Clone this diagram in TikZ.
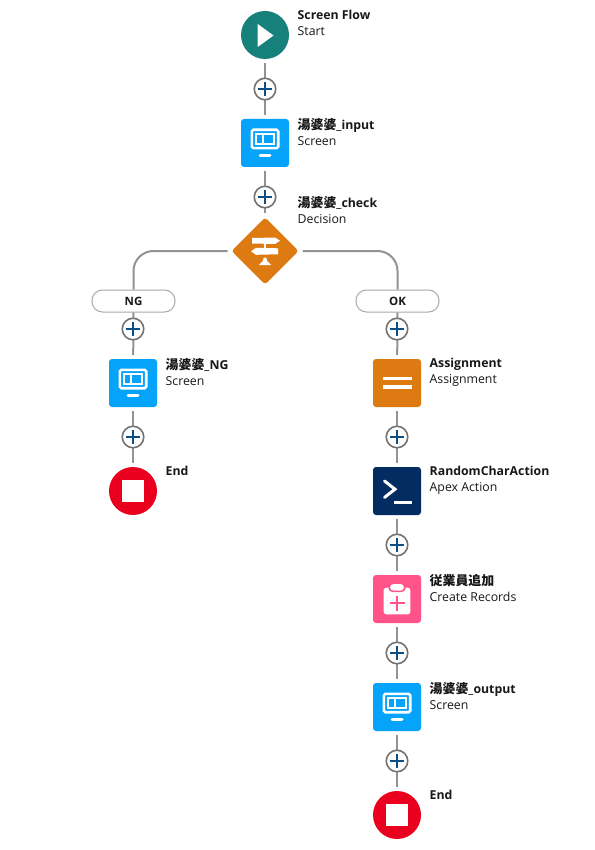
\documentclass[tikz,border=0pt]{standalone}
\usepackage{fontspec}
\setmainfont{Open Sans}
\newfontfamily\cjkfont[Scale=1.05]{Noto Sans CJK JP}
\usetikzlibrary{shapes.geometric}
\definecolor{linegray}{HTML}{939393}
\definecolor{ringgray}{HTML}{747474}
\definecolor{plusblue}{HTML}{0B4F85}
\definecolor{txt}{HTML}{181818}
\definecolor{startteal}{HTML}{16807A}
\definecolor{screenblue}{HTML}{06A3FB}
\definecolor{orangeb}{HTML}{DD7A12}
\definecolor{apexnavy}{HTML}{032D60}
\definecolor{createpink}{HTML}{FF538A}
\definecolor{endred}{HTML}{EA001E}
\newcommand{\twolines}[2]{{\bfseries #1}\\#2}
\tikzset{
  x=1pt,y=-1pt,
  squarebox/.style={rounded corners=3pt,minimum size=48pt,inner sep=0pt,outer sep=0pt},
  circlebox/.style={circle,minimum size=48pt,inner sep=0pt,outer sep=0pt},
  addring/.style={circle,draw=ringgray,line width=1.6pt,fill=white,minimum size=21.5pt,inner sep=0pt,outer sep=0pt,
    path picture={\draw[plusblue,line width=1.6pt] ([xshift=-7pt]path picture bounding box.center)--([xshift=7pt]path picture bounding box.center)
      ([yshift=-7pt]path picture bounding box.center)--([yshift=7pt]path picture bounding box.center);}},
  flowline/.style={draw=linegray,line width=2pt,shorten >=4pt,shorten <=4pt},
  branchline/.style={draw=linegray,line width=2pt,rounded corners=20pt},
  outcome/.style={draw=linegray!80,line width=1pt,fill=white,rounded corners=10.5pt,minimum width=83pt,minimum height=22pt,inner sep=0pt,font=\fontsize{11.5}{14}\selectfont\bfseries,text=txt},
  lab/.style={anchor=north west,align=left,inner sep=0pt,text=txt,font=\fontsize{12.3}{16}\selectfont},
  pics/screenicon/.style={code={
    \draw[white,line width=2.6pt,rounded corners=1.5pt] (-13.2,-13.2) rectangle (13.2,5.2);
    \draw[white,line width=1.9pt] (-8.8,-9.2) rectangle (8.8,1.2);
    \draw[white,line width=1.9pt] (-2,-9.2) -- (-2,1.2);
    \draw[white,line width=3pt,line cap=round] (-5,12.5) -- (5,12.5);
  }},
  pics/equalsicon/.style={code={
    \fill[white] (-14.5,-6.5) rectangle (14.5,-3);
    \fill[white] (-14.5,2.2) rectangle (14.5,5.7);
  }},
  pics/apexicon/.style={code={
    \draw[white,line width=3pt,line cap=round,line join=miter] (-12.5,-10) -- (-2,-1.8) -- (-12.5,6.4);
    \draw[white,line width=3.2pt] (-3,11.6) -- (15,11.6);
  }},
  pics/createicon/.style={code={
    \fill[white,rounded corners=2.5pt] (-13.3,-11.3) rectangle (13.3,15.3);
    \fill[createpink,rounded corners=4pt] (-8.6,-16.5) rectangle (8.6,-7);
    \fill[white,rounded corners=3.5pt] (-7,-15) rectangle (7,-8.4);
    \draw[createpink,line width=1.5pt] (-7.5,4) -- (7.5,4) (0,-3.5) -- (0,11.5);
  }},
  pics/signicon/.style={code={
    \fill[white] (-13,-13) -- (10,-13.5) -- (15,-10.3) -- (10,-7) -- (-13,-7.5) -- cycle;
    \fill[white] (13,-2.7) -- (-9,-3.2) -- (-14,0.3) -- (-9,3.8) -- (13,3.3) -- cycle;
    \fill[white] (-1.2,-7.5) rectangle (1.2,-3);
    \fill[white] (-1.2,6.5) -- (1.2,6.5) -- (2.2,10) -- (6,14) -- (-6,14) -- (-2.2,10) -- cycle;
  }}
}
\begin{document}
\begin{tikzpicture}
\useasboundingbox (0,0) rectangle (594,850);
\fill[white] (0,0) rectangle (594,850);
% nodes
\node[circlebox,fill=startteal] (start) at (265,35) {};
\node[squarebox,fill=screenblue] (input) at (265,143) {};
\node[diamond,fill=orangeb,rounded corners=3pt,minimum size=67pt,inner sep=0pt,outer sep=0pt] (check) at (265,251) {};
\node[squarebox,fill=screenblue] (ngscreen) at (133,383) {};
\node[circlebox,fill=endred] (ngend) at (133,491) {};
\node[squarebox,fill=orangeb] (assign) at (397,383) {};
\node[squarebox,fill=apexnavy] (apex) at (397,491) {};
\node[squarebox,fill=createpink] (create) at (397,599) {};
\node[squarebox,fill=screenblue] (output) at (397,707) {};
\node[circlebox,fill=endred] (okend) at (397,815) {};
\node[outcome] (ng) at (133.5,301) {NG};
\node[outcome] (ok) at (397.5,301) {OK};
% connectors
\draw[flowline] (start) -- (input);
\draw[flowline] (input) -- (check);
\draw[branchline] ([xshift=-4pt]check.west) -| (ng.north);
\draw[branchline] ([xshift=4pt]check.east) -| (ok.north);
\draw[flowline,shorten <=0pt] (ng.south) -- (ngscreen);
\draw[flowline] (ngscreen) -- (ngend);
\draw[flowline,shorten <=0pt] (ok.south) -- (assign);
\draw[flowline] (assign) -- (apex);
\draw[flowline] (apex) -- (create);
\draw[flowline] (create) -- (output);
\draw[flowline] (output) -- (okend);
% add buttons
\node[addring] (p1) at (265,89) {};
\node[addring] (p2) at (265,197) {};
\node[addring] (p3) at (133,329) {};
\node[addring] (p4) at (133,437) {};
\node[addring] (p5) at (397,329) {};
\node[addring] (p6) at (397,437) {};
\node[addring] (p7) at (397,545) {};
\node[addring] (p8) at (397,653) {};
\node[addring] (p9) at (397,761) {};
% icons
\fill[white] (257.7,24) -- (273.5,35.5) -- (257.7,47) -- cycle;
\pic at (input) {screenicon};
\pic at (check) {signicon};
\pic at (ngscreen) {screenicon};
\fill[white] ([xshift=-11pt,yshift=-11pt]ngend.center) rectangle ([xshift=11pt,yshift=11pt]ngend.center);
\pic at (assign) {equalsicon};
\pic at (apex) {apexicon};
\pic at (create) {createicon};
\pic at (output) {screenicon};
\fill[white] ([xshift=-11pt,yshift=-11pt]okend.center) rectangle ([xshift=11pt,yshift=11pt]okend.center);
% labels
\node[lab] (l1) at (297.5,10.2) {\twolines{Screen Flow}{Start}};
\node[lab] (l2) at (297.5,117.8) {\twolines{{\cjkfont 湯婆婆}\_input}{Screen}};
\node[lab] (l3) at (297.5,195.8) {\twolines{{\cjkfont 湯婆婆}\_check}{Decision}};
\node[lab] (l4) at (165.5,357.8) {\twolines{{\cjkfont 湯婆婆}\_NG}{Screen}};
\node[lab] (l5) at (165.5,466.2) {\bfseries End};
\node[lab] (l6) at (429.5,358.2) {\twolines{Assignment}{Assignment}};
\node[lab] (l7) at (429.5,466.2) {\twolines{RandomCharAction}{Apex Action}};
\node[lab] (l8) at (429.5,573.8) {\twolines{{\cjkfont 従業員追加}}{Create Records}};
\node[lab] (l9) at (429.5,681.8) {\twolines{{\cjkfont 湯婆婆}\_output}{Screen}};
\node[lab] (l10) at (429.5,790.2) {\bfseries End};
\end{tikzpicture}
\end{document}
